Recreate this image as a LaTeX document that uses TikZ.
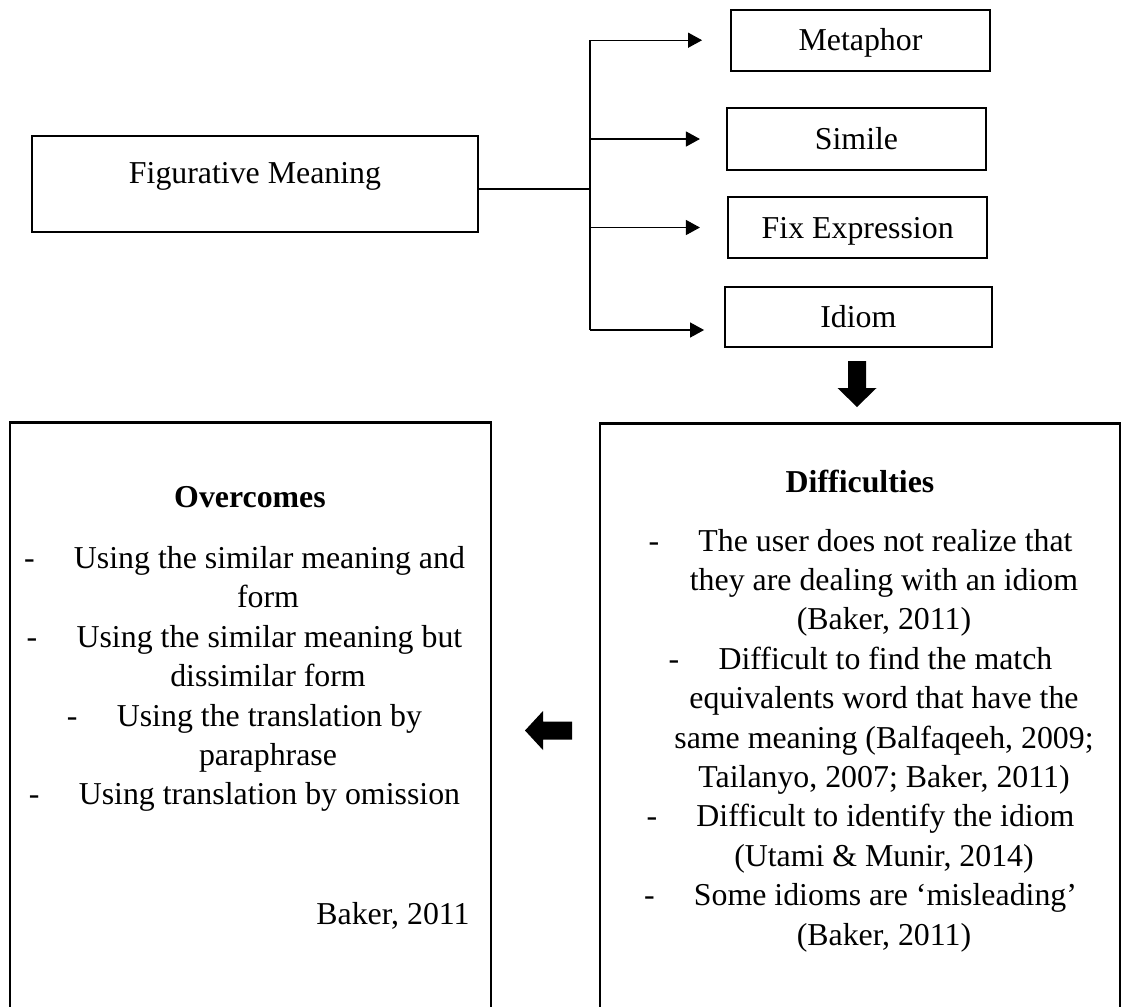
\documentclass[tikz,border=0pt]{standalone}
\usepackage{fontspec}
\setmainfont{Liberation Serif}
\usepackage{tikz}
\usetikzlibrary{positioning,arrows.meta}
\newcommand{\upx}{0.3768pt}
\newcommand{\butir}[1]{-\hspace{14.8pt}#1\rule{17.7pt}{0pt}}
\tikzstyle{kotak} = [rectangle, draw=black, line width=0.8pt, inner sep=0pt, text height=9pt, text depth=1pt, minimum height=61*\upx]
\tikzstyle{kotakbesar} = [rectangle, draw=black, line width=0.8pt, inner sep=0pt]
\tikzstyle{judul} = [font=\fontsize{12}{14.85}\selectfont\bfseries]
\tikzstyle{isi} = [align=center]
\tikzstyle{tipis} = [line width=0.4pt]
\tikzstyle{cabang} = [line width=0.4pt, -{Triangle[length=5.3pt,width=5.7pt]}]
\tikzstyle{garis} = [line width=0.6pt]
\tikzstyle{panah} = [fill=black]

\begin{document}
\begin{tikzpicture}[x=\upx, y=-\upx, every node/.style={font=\fontsize{12}{14.85}\selectfont}]
	\clip (0,0) rectangle (1121,1006);
	\node (fig) [kotakbesar, minimum width=446*\upx, minimum height=96.3*\upx, text height=5pt, text depth=5pt] at (255,183.9) {Figurative Meaning};
	\node (met) [kotak, minimum width=259*\upx] at (860.5,40.2) {Metaphor};
	\node (sim) [kotak, minimum width=259*\upx, minimum height=62*\upx] at (856.5,139) {Simile};
	\node (fix) [kotak, minimum width=259.3*\upx] at (857.7,227.5) {Fix Expression};
	\node (idi) [kotak, minimum width=266.7*\upx, minimum height=60*\upx] at (858.4,317) {Idiom};
	
	\coordinate (simpang) at (590,188.7);
	\coordinate (bawah) at (590,330);
	\draw [garis] (fig.east |- simpang) -- (simpang);
	\draw [tipis] (met.west -| simpang) -- (bawah);
	\draw [cabang, shorten >=10.5pt] (met.west -| simpang) -- (met.west);
	\draw [cabang, shorten >=9.8pt] (sim.west -| simpang) -- (sim.west);
	\draw [cabang, shorten >=10.2pt] (fix.west -| simpang) -- (fix.west);
	\draw [cabang, shorten >=7.5pt] (bawah) -- (bawah -| idi.west);
	
	\node (atasi) [kotakbesar, minimum width=481*\upx, minimum height=608*\upx] at (250.5,726.5) {};
	\node (sulit) [kotakbesar, minimum width=520*\upx, minimum height=607*\upx] at (860,727) {};
	\node (judatasi) [judul] at (250,496.6) {Overcomes};
	\node (judsulit) [judul] at (860,481) {Difficulties};
	\node (isiatasi) [isi] at (268,679) {\butir{Using the similar meaning and}\\ form\\ \butir{Using the similar meaning but}\\ dissimilar form\\ \butir{Using the translation by}\\ paraphrase\\ \butir{Using translation by omission}};
	\node (sumber) [anchor=east] at (479,916) {Baker, 2011};
	\node (isisulit) [isi] at (884,740.5) {\butir{The user does not realize that}\\ they are dealing with an idiom\\ (Baker, 2011)\\ \butir{Difficult to find the match}\\ equivalents word that have the\\ same meaning (Balfaqeeh, 2009;\\ Tailanyo, 2007; Baker, 2011)\\ \butir{Difficult to identify the idiom}\\ (Utami \& Munir, 2014)\\ \butir{Some idioms are ‘misleading’}\\ (Baker, 2011)};
	
	\coordinate (turun) at (857,361);
	\coordinate (kiri) at (572,730.5);
	\fill [panah] (turun) ++(-9,0) -- ++(18,0) -- ++(0,27) -- ++(10.5,0) -- ++(-19.5,19) -- ++(-19.5,-19) -- ++(10.5,0) -- cycle;
	\fill [panah] (kiri) ++(0,-9) -- ++(0,18) -- ++(-29,0) -- ++(0,10.5) -- ++(-18,-19.5) -- ++(18,-19.5) -- ++(0,10.5) -- cycle;
\end{tikzpicture}
\end{document}
